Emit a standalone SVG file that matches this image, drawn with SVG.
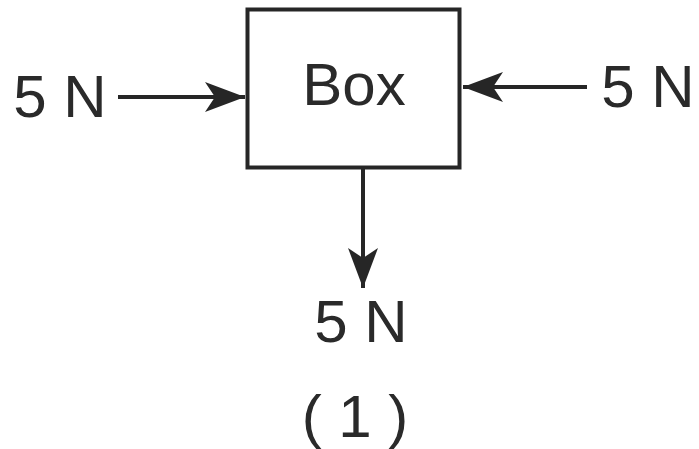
<svg xmlns="http://www.w3.org/2000/svg" width="699" height="449" viewBox="0 0 699 449">
<style>
text{font-family:"Liberation Sans",Arial,sans-serif;font-size:60px;fill:#2a2a2a}
.ln{stroke:#262626;stroke-width:4;fill:none}
</style>
<defs>
<marker id="ah" viewBox="0 0 40 30" refX="40" refY="15" markerWidth="40" markerHeight="30" markerUnits="userSpaceOnUse" orient="auto">
<path d="M0,0 L40,15 L0,30 L10,15 Z" fill="#262626"/>
</marker>
</defs>
<rect width="699" height="449" fill="#fff"/>
<g id="box">
<rect class="ln" x="247.5" y="9.5" width="212" height="158"/>
<text x="354" y="105" text-anchor="middle">Box</text>
</g>
<g id="connectors">
<line class="ln" x1="118" y1="97" x2="245" y2="97" marker-end="url(#ah)"/>
<line class="ln" x1="587" y1="87" x2="463" y2="87" marker-end="url(#ah)"/>
<line class="ln" x1="363" y1="168" x2="363" y2="288" marker-end="url(#ah)"/>
</g>
<g id="left-force"><text x="60" y="117" text-anchor="middle">5 N</text></g>
<g id="right-force"><text x="648" y="107" text-anchor="middle">5 N</text></g>
<g id="bottom-force"><text x="361" y="342" text-anchor="middle">5 N</text></g>
<g id="caption"><text x="355" y="437" text-anchor="middle">( 1 )</text></g>
</svg>
